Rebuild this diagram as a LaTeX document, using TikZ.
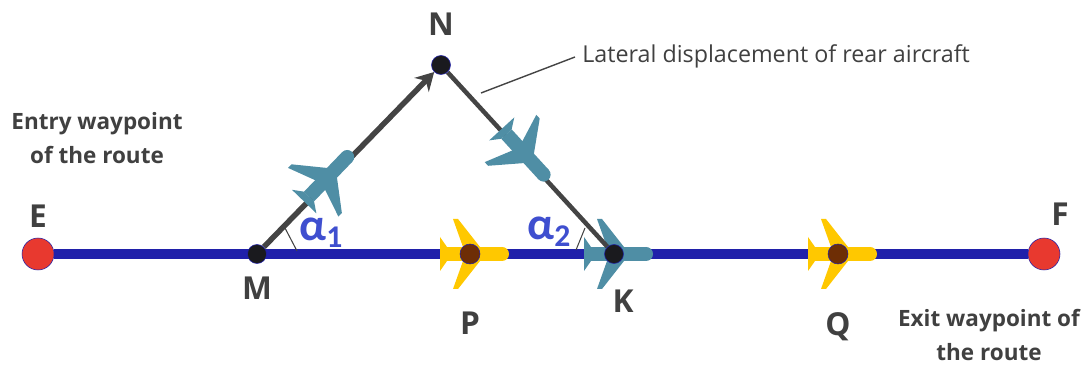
\documentclass[tikz,border=0pt]{standalone}
\usepackage{fontspec}
\usepackage{xcolor}
\setmainfont{Open Sans}
\newfontfamily\greekfont{Carlito}
\usetikzlibrary{arrows.meta, positioning, backgrounds}

\definecolor{routeblue}{HTML}{2020AA}
\definecolor{planeteal}{HTML}{4F8EA5}
\definecolor{planeyellow}{HTML}{FFC800}
\definecolor{pointred}{HTML}{E8392F}
\definecolor{pointbrown}{HTML}{6E2E05}
\definecolor{pointblack}{HTML}{1A1A1E}
\definecolor{pathgray}{HTML}{444444}
\definecolor{labelgray}{HTML}{404040}
\definecolor{anglblue}{HTML}{3F4FCF}

\begin{document}
\begin{tikzpicture}[
    x=0.02cm, y=-0.02cm,
    base/.style={circle, inner sep=0pt, draw=routeblue, line width=0.3pt},
    endpoint/.style={base, minimum size=0.64cm, fill=pointred},
    waypoint/.style={base, minimum size=0.38cm, fill=pointblack},
    aircraft/.style={base, minimum size=0.4cm, fill=pointbrown},
    letter/.style={inner sep=0pt, text=labelgray, font=\fontsize{18}{18}\selectfont\bfseries},
    note/.style={inner sep=0pt, text=labelgray, align=center, font=\fontsize{12.8}{19}\selectfont\bfseries},
    angle/.style={inner sep=0pt, text=anglblue, font=\greekfont\fontsize{26}{26}\selectfont\bfseries},
    route/.style={routeblue, line width=0.2cm},
    path/.style={pathgray, line width=0.11cm},
    tick/.style={pathgray, line width=0.6pt},
    plane/.pic={
        \fill[pic actions] (-23,-7) rectangle (32,7);
        \fill[pic actions] (32,0) circle (7);
        \fill[pic actions] (10,-7) -- (-12,-35) -- (-17,-35) -- (-7,-7) -- (-7,7) -- (-17,35) -- (-12,35) -- (10,7) -- cycle;
        \fill[pic actions] (-23,-7) -- (-30,-17) -- (-30,17) -- (-23,7) -- cycle;
    }
]

    % Planes on the route and on the detour
    \pic [fill=planeyellow] at (470,254) {plane};
    \pic [fill=planeyellow] at (838,254) {plane};
    \pic [fill=planeteal, rotate=46] at (325,180) {plane};
    \pic [fill=planeteal, rotate=-47.5] at (522,151) {plane};

    % Points
    \node [endpoint] (E) at (38,254) {};
    \node [endpoint] (F) at (1044,254) {};
    \node [waypoint] (M) at (257,254) {};
    \node [waypoint] (N) at (441,65) {};
    \node [waypoint] (K) at (614,254) {};
    \node [aircraft] (P) at (470,254) {};
    \node [aircraft] (Q) at (838,254) {};

    % Letters
    \node [letter, above=0.2cm of E] (Elabel) {E};
    \node [letter, above=0.24cm of F, xshift=0.32cm] (Flabel) {F};
    \node [letter, below=0.26cm of M] (Mlabel) {M};
    \node [letter, above=0.38cm of N] (Nlabel) {N};
    \node [letter, below=0.52cm of K, xshift=0.18cm] (Klabel) {K};
    \node [letter, below=0.94cm of P] (Plabel) {P};
    \node [letter, below=0.96cm of Q] (Qlabel) {Q};

    % Notes
    \node [note] (entry) at (97,138) {Entry waypoint\\of the route};
    \node [note] (exit) at (989,335) {Exit waypoint of\\the route};
    \node [inner sep=0pt, text=labelgray, anchor=west, font=\fontsize{13.25}{15}\selectfont] (lateral) at (582,56) {Lateral displacement of rear aircraft};

    % Angles
    \node [angle] (alpha1) at (321,233) {α\raisebox{-0.3ex}{\fontsize{18}{18}\selectfont 1}};
    \node [angle] (alpha2) at (549,232) {α\raisebox{-0.3ex}{\fontsize{18}{18}\selectfont 2}};

    \coordinate (leader) at (481,93);
    \coordinate (tick1a) at (285,228);
    \coordinate (tick1b) at (297,251);
    \coordinate (tick2a) at (585,228);
    \coordinate (tick2b) at (576,250);

    % Path connections
    \begin{scope}[on background layer]
        \draw [route] (E) -- (F);
        \pic [fill=planeteal] at (K) {plane};
        \draw [path, -{Stealth[length=0.36cm, width=0.4cm]}] (M) -- (N);
        \draw [path, line width=0.09cm] (N) -- (K);
    \end{scope}

    \draw [tick, line width=0.8pt] (lateral.west) ++(-7,1) coordinate (leaderend) -- (leader);
    \draw [tick] (tick1a) -- (tick1b);
    \draw [tick] (tick2a) -- (tick2b);

    \useasboundingbox (0,0) rectangle (1088,367);
\end{tikzpicture}
\end{document}
